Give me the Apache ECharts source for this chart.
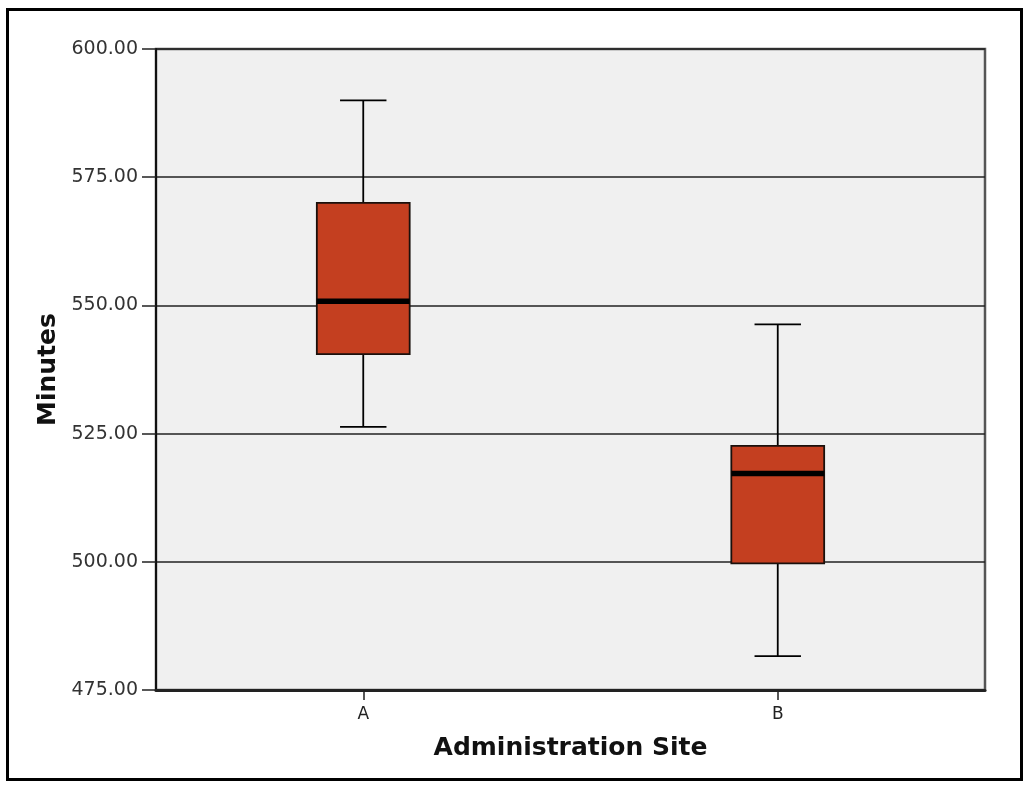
<!DOCTYPE html>
<html>
<head>
<meta charset="utf-8">
<script src="https://cdn.jsdelivr.net/npm/echarts@6/dist/echarts.min.js"></script>
<style>
html,body{margin:0;padding:0;background:#fff;}
#chart{width:1036px;height:788px;}
</style>
</head>
<body>
<div id="chart"></div>
<script>
// Categories and five-number summaries
const categories = ['A', 'B'];
const whiskerLow  = [526.3, 481.6];
const q1Values    = [540.5, 499.7];
const medians     = [550.8, 517.2];
const q3Values    = [570.0, 522.6];
const whiskerHigh = [590.0, 546.3];
const yTicks = { min: 475, max: 600, interval: 25 };

const boxData = categories.map((c, i) => [i, whiskerLow[i], q1Values[i], medians[i], q3Values[i], whiskerHigh[i]]);

const chart = echarts.init(document.getElementById('chart'));
const FONT = 'DejaVu Sans';

function renderBox(params, api) {
  const idx = api.value(0);
  const band = api.size([1, 0])[0];
  const boxW = band * 0.224;
  const capW = boxW * 0.5;
  const pMin = api.coord([idx, api.value(1)]);
  const pQ1 = api.coord([idx, api.value(2)]);
  const pMed = api.coord([idx, api.value(3)]);
  const pQ3 = api.coord([idx, api.value(4)]);
  const pMax = api.coord([idx, api.value(5)]);
  const cx = pMin[0];
  const lineStyle = { stroke: '#000', lineWidth: 1.8 };
  return {
    type: 'group',
    children: [
      { type: 'line', shape: { x1: cx, y1: pMax[1], x2: cx, y2: pQ3[1] }, style: lineStyle },
      { type: 'line', shape: { x1: cx, y1: pQ1[1], x2: cx, y2: pMin[1] }, style: lineStyle },
      { type: 'line', shape: { x1: cx - capW / 2, y1: pMax[1], x2: cx + capW / 2, y2: pMax[1] }, style: lineStyle },
      { type: 'line', shape: { x1: cx - capW / 2, y1: pMin[1], x2: cx + capW / 2, y2: pMin[1] }, style: lineStyle },
      { type: 'rect', shape: { x: cx - boxW / 2, y: pQ3[1], width: boxW, height: pQ1[1] - pQ3[1] },
        style: { fill: '#c43f20', stroke: '#1a100c', lineWidth: 1.8 } },
      { type: 'line', shape: { x1: cx - boxW / 2, y1: pMed[1], x2: cx + boxW / 2, y2: pMed[1] },
        style: { stroke: '#000', lineWidth: 5.5 } }
    ]
  };
}

chart.setOption({
  animation: false,
  backgroundColor: '#fff',
  graphic: [{
    type: 'rect', z: -10, silent: true,
    shape: { x: 7.5, y: 9.5, width: 1014, height: 770 },
    style: { fill: 'none', stroke: '#000', lineWidth: 3 }
  }],
  grid: {
    left: 156, right: 51, top: 49, bottom: 98,
    show: true, backgroundColor: '#f0f0f0', borderColor: '#555', borderWidth: 2.5
  },
  xAxis: {
    type: 'category',
    data: categories,
    boundaryGap: true,
    name: 'Administration Site',
    nameLocation: 'middle',
    nameGap: 46,
    nameTextStyle: { fontFamily: FONT, fontSize: 25, fontWeight: 'bold', color: '#111' },
    axisLine: { lineStyle: { color: '#222', width: 3 } },
    axisTick: { show: true, alignWithLabel: true, interval: 0, length: 10, lineStyle: { color: '#222', width: 1.5 } },
    axisLabel: { fontFamily: FONT, fontSize: 17, color: '#222', margin: 16 },
    splitLine: { show: false }
  },
  yAxis: {
    type: 'value',
    min: yTicks.min, max: yTicks.max, interval: yTicks.interval,
    name: 'Minutes',
    nameLocation: 'middle',
    nameGap: 95,
    nameTextStyle: { fontFamily: FONT, fontSize: 25, fontWeight: 'bold', color: '#111' },
    axisLine: { show: true, lineStyle: { color: '#111', width: 2 } },
    axisTick: { show: true, length: 14, lineStyle: { color: '#222', width: 1.5 } },
    axisLabel: { fontFamily: FONT, fontSize: 19, color: '#333', margin: 18,
      formatter: v => v.toFixed(2) },
    splitLine: { show: true, lineStyle: { color: '#222', width: 1.5 } }
  },
  series: [{
    type: 'custom',
    renderItem: renderBox,
    encode: { x: 0, y: [1, 2, 3, 4, 5] },
    data: boxData,
    z: 5
  }]
});
</script>
</body>
</html>
